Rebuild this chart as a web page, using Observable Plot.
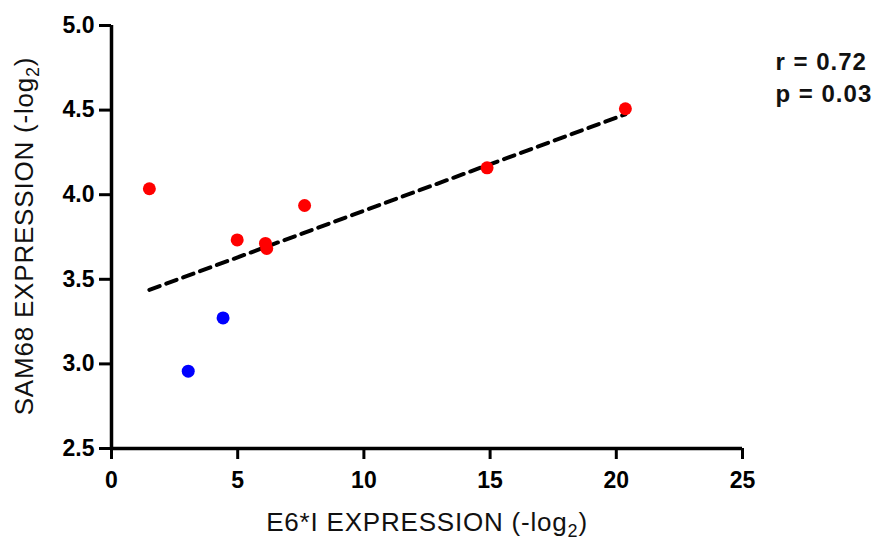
<!DOCTYPE html>
<html>
<head>
<meta charset="utf-8">
<script src="https://cdn.jsdelivr.net/npm/d3@7"></script>
<script src="https://cdn.jsdelivr.net/npm/@observablehq/plot@0.6"></script>
<style>
  html, body { margin: 0; padding: 0; background: #fff; }
  #chart svg { display: block; }
</style>
</head>
<body>
<div id="chart"></div>
<script>
// ---- data ----
const e6Expression    = [1.50, 4.98, 6.10, 6.15, 7.65, 14.88, 20.36, 4.42, 3.04];
const sam68Expression = [4.035, 3.733, 3.712, 3.682, 3.936, 4.159, 4.508, 3.272, 2.957];
const group           = ["red", "red", "red", "red", "red", "red", "red", "blue", "blue"];
const groupColors     = ["#ee0536", "#1212ee"];
const xTicks = [0, 5, 10, 15, 20, 25];
const yTicks = [2.5, 3.0, 3.5, 4.0, 4.5, 5.0];
const xTitle = "E6*I EXPRESSION (-log2)";
const yTitle = "SAM68 EXPRESSION (-log2)";
const statLines = ["r = 0.72", "p = 0.03"];

const data = e6Expression.map((x, i) => ({x, y: sam68Expression[i], g: group[i]}));

const chart = Plot.plot({
  width: 879,
  height: 541,
  marginLeft: 111,
  marginRight: 137,
  marginTop: 25,
  marginBottom: 93,
  style: {fontFamily: "'Liberation Sans', Arial, Helvetica, sans-serif", fontSize: "23px", fontWeight: "bold", background: "#fff", color: "#000"},
  x: {domain: [0, 25]},
  y: {domain: [2.5, 5]},
  color: {domain: ["red", "blue"], range: groupColors},
  marks: [
    Plot.axisX({ticks: xTicks, tickSize: 11, tickPadding: 12, strokeWidth: 3, label: null, fill: "#000"}),
    Plot.axisY({ticks: yTicks, tickSize: 12, tickPadding: 5, strokeWidth: 3, label: null, tickFormat: d => d.toFixed(1), fill: "#000"}),
    Plot.ruleX([0], {stroke: "#000", strokeWidth: 3.5}),
    Plot.ruleY([2.5], {stroke: "#000", strokeWidth: 3.5}),
    Plot.linearRegressionY(data, {x: "x", y: "y", ci: 0, stroke: "#000", strokeWidth: 4, strokeDasharray: "11,7"}),
    Plot.dot(data, {x: "x", y: "y", fill: "g", r: 6.5}),
    Plot.text([statLines[0]], {frameAnchor: "top-right", textAnchor: "start", lineAnchor: "middle", dx: 33, dy: 37, fontSize: 24, fontWeight: "bold", fill: "#111"}),
    Plot.text([statLines[1]], {frameAnchor: "top-right", textAnchor: "start", lineAnchor: "middle", dx: 33, dy: 69, fontSize: 24, fontWeight: "bold", fill: "#111"}),
    Plot.text([xTitle], {frameAnchor: "bottom", textAnchor: "middle", lineAnchor: "middle", dy: 74, fontSize: 26, fontWeight: "normal", fill: "#111"}),
    Plot.text([yTitle], {frameAnchor: "left", textAnchor: "middle", lineAnchor: "middle", rotate: -90, dx: -87, dy: -1, fontSize: 26, fontWeight: "normal", fill: "#111"})
  ]
});

// subscript "2" in the axis titles, slight letter spacing as in the reference
d3.select(chart).selectAll("text").each(function () {
  const t = this.textContent;
  if (t.endsWith("log2)")) {
    const pre = t.slice(0, -2);
    const sel = d3.select(this);
    sel.attr("letter-spacing", "0.8px");
    sel.text(null);
    sel.append("tspan").text(pre);
    sel.append("tspan").attr("font-size", "18px").attr("dy", "6").text("2");
    sel.append("tspan").attr("dy", "-6").text(")");
  } else if (statLines.includes(t)) {
    d3.select(this).attr("letter-spacing", "1px");
  }
});

document.getElementById("chart").appendChild(chart);
</script>
</body>
</html>
